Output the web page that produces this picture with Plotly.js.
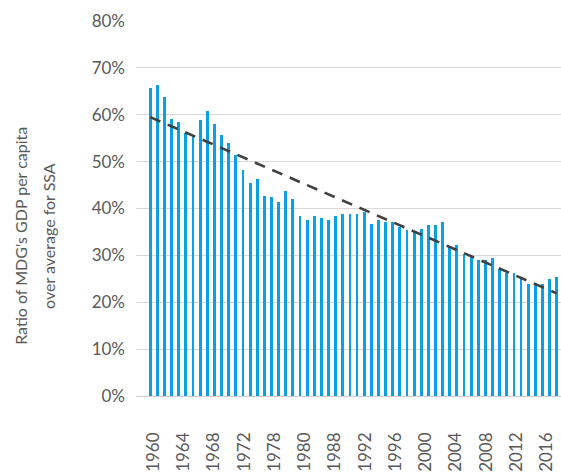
<!DOCTYPE html>
<html>
<head>
<meta charset="utf-8">
<script src="https://cdn.plot.ly/plotly-3.0.1.min.js"></script>
<style>html,body{margin:0;padding:0;background:#fff;}#chart{width:561px;height:473px;}</style>
</head>
<body>
<div id="chart"></div>
<script>
// Years (one bar each)
const years = [
  1960,1961,1962,1963,1964,1965,1966,1967,1968,1969,
  1970,1971,1972,1973,1974,1975,1976,1977,1978,1979,
  1980,1981,1982,1983,1984,1985,1986,1987,1988,1989,
  1990,1991,1992,1993,1994,1995,1996,1997,1998,1999,
  2000,2001,2002,2003,2004,2005,2006,2007,2008,2009,
  2010,2011,2012,2013,2014,2015,2016,2017
];
// Ratio of MDG's GDP per capita over SSA average (%)
const ratio = [
  65.8,66.3,63.8,59.2,58.5,56.1,55.5,58.8,60.9,58.1,
  55.6,53.9,51.5,48.3,45.4,46.3,42.6,42.5,41.3,43.7,
  42.1,38.4,37.6,38.4,38.0,37.6,38.4,38.8,38.8,38.8,
  39.3,36.8,37.6,37.2,37.2,36.1,35.5,35.2,35.6,36.4,
  36.4,37.2,31.8,32.3,30.4,29.9,29.1,29.0,29.4,27.2,
  26.2,26.2,24.9,24.0,24.0,24.0,24.9,25.3
];
// Linear trend line end points
const trendYears = [1960, 2017];
const trendValues = [59.5, 21.9];
// Tick labels as printed on the chart
const tickLabels = ["1960","1964","1968","1972","1978","1980","1988","1992","1996","2000","2004","2008","2012","2016"];
const yTicks = [0,10,20,30,40,50,60,70,80];
// Axis title lines
const titleLines = ["Ratio of MDG's GDP per capita", "over average for SSA"];

const fontFamily = 'Lato, "Open Sans", sans-serif';
const textColor = '#595959';

const traces = [
  {
    type: 'bar',
    x: years,
    y: ratio,
    width: 0.4,
    marker: {color: '#0aa0e3'},
    hoverinfo: 'x+y'
  },
  {
    type: 'scatter',
    mode: 'lines',
    x: trendYears,
    y: trendValues,
    line: {color: '#404040', width: 2.6, dash: '11px,8px'},
    hoverinfo: 'skip'
  },
  {
    type: 'scatter', mode: 'markers', x: [0], y: [null], xaxis: 'x2', yaxis: 'y',
    hoverinfo: 'skip', showlegend: false, marker: {opacity: 0}
  }
];

const layout = {
  width: 561,
  height: 473,
  margin: {l: 136, r: 0, t: 21, b: 77, pad: 0},
  paper_bgcolor: '#ffffff',
  plot_bgcolor: '#ffffff',
  showlegend: false,
  bargap: 0,
  font: {family: fontFamily, color: textColor, size: 17},
  xaxis: {
    type: 'linear',
    range: [1958.0, 2017.6],
    showticklabels: false,
    showgrid: false,
    zeroline: false,
    showline: false,
    ticks: '',
    fixedrange: true
  },
  xaxis2: {
    type: 'linear',
    overlaying: 'x',
    anchor: 'y',
    side: 'bottom',
    range: [-0.57, 13.47],
    tickmode: 'array',
    tickvals: tickLabels.map((_, i) => i),
    ticktext: tickLabels,
    tickangle: -90,
    ticks: '',
    ticklabelstandoff: 32,
    showgrid: false,
    zeroline: false,
    showline: false,
    automargin: false,
    tickfont: {family: fontFamily, size: 17, color: textColor}
  },
  yaxis: {
    range: [0, 80],
    tickmode: 'array',
    tickvals: yTicks,
    ticktext: yTicks.map(v => v + '%'),
    showgrid: true,
    gridcolor: '#d9d9d9',
    gridwidth: 1,
    zeroline: true,
    zerolinecolor: '#d0d0d0',
    zerolinewidth: 1,
    showline: false,
    ticks: '',
    ticklabelstandoff: 10,
    automargin: false,
    tickfont: {family: fontFamily, size: 17, color: textColor},
    fixedrange: true
  },
  annotations: [
    {
      text: titleLines[0],
      xref: 'paper', yref: 'paper',
      x: -0.2706, y: 0.427,
      xanchor: 'center', yanchor: 'middle',
      textangle: -90,
      showarrow: false,
      font: {family: fontFamily, size: 16, color: textColor}
    },
    {
      text: titleLines[1],
      xref: 'paper', yref: 'paper',
      x: -0.2047, y: 0.427,
      xanchor: 'center', yanchor: 'middle',
      textangle: -90,
      showarrow: false,
      font: {family: fontFamily, size: 16, color: textColor}
    }
  ]
};

Plotly.newPlot('chart', traces, layout, {displayModeBar: false, staticPlot: true});
</script>
</body>
</html>
